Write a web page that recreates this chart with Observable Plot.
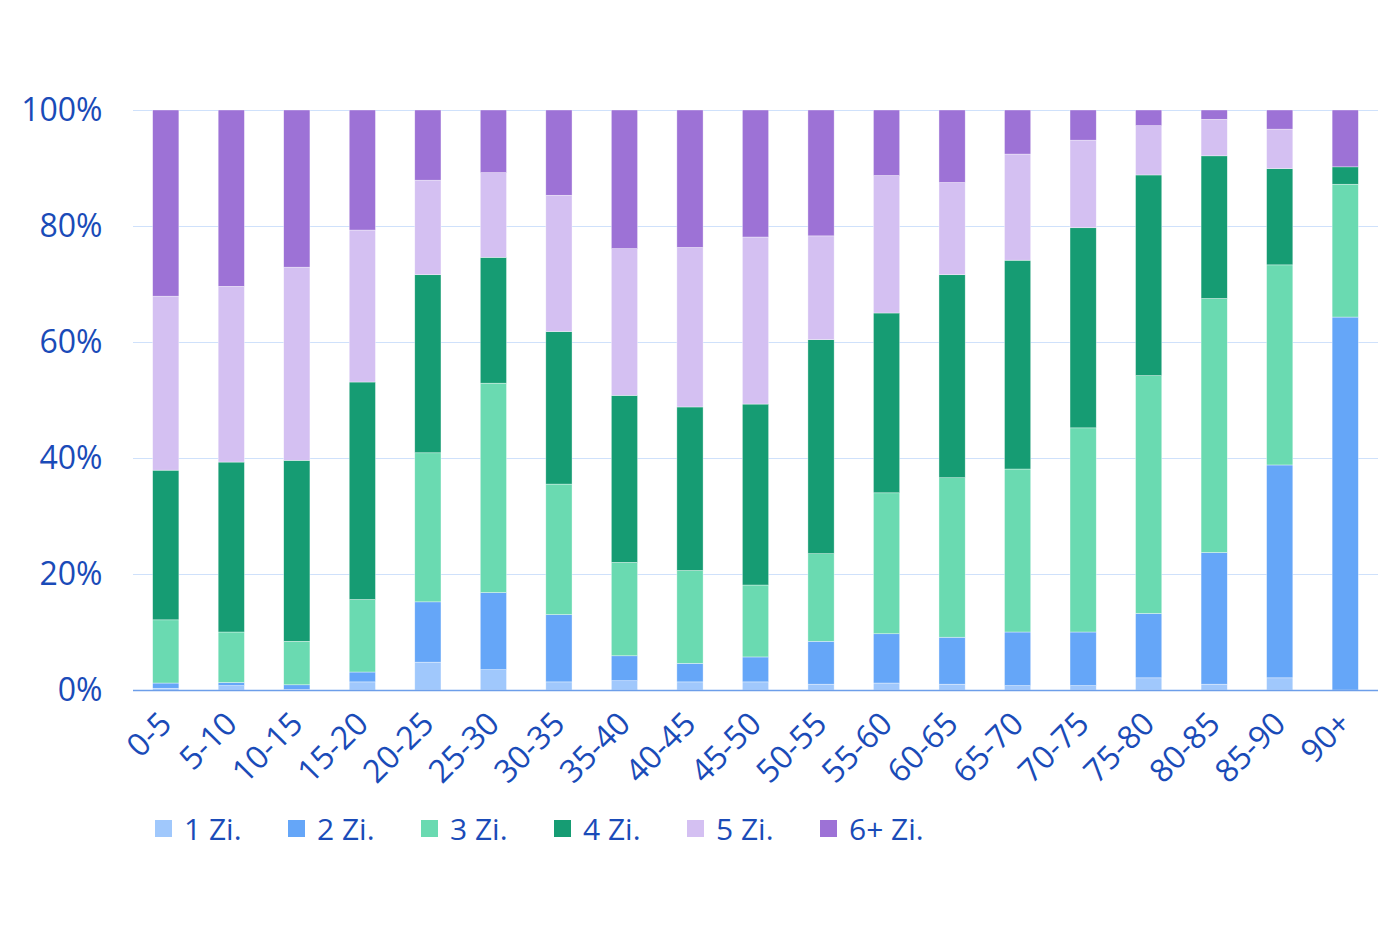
<!DOCTYPE html>
<html>
<head>
<meta charset="utf-8">
<script src="https://cdn.jsdelivr.net/npm/d3@7"></script>
<script src="https://cdn.jsdelivr.net/npm/@observablehq/plot@0.6"></script>
<style>
  html, body { margin: 0; padding: 0; background: #fff; }
  body { width: 1400px; height: 933px; font-family: "Open Sans", sans-serif; }
  #chart svg { display: block; }
  #legend { position: relative; height: 60px; margin-top: -2px; padding-left: 155px; display: flex; align-items: center; }
  .item { display: flex; align-items: center; width: 133px; color: #1a4bb8; font-size: 30px; }
  .sw { width: 17px; height: 17px; margin-right: 12px; }
</style>
</head>
<body>
<div id="chart"></div>
<div id="legend"></div>
<script>
const ages = ["0-5","5-10","10-15","15-20","20-25","25-30","30-35","35-40","40-45","45-50","50-55","55-60","60-65","65-70","70-75","75-80","80-85","85-90","90+"];
const seriesNames = ["1 Zi.","2 Zi.","3 Zi.","4 Zi.","5 Zi.","6+ Zi."];
const seriesColors = ["#a0c8fc","#65a6f8","#6adab1","#169c73","#d4c0f2","#9d72d6"];

const zi1 = [0.3,0.75,0.1,1.4,4.8,3.5,1.4,1.6,1.4,1.4,1.0,1.2,1.0,0.75,0.75,2.1,1.0,2.1,0];
const zi2 = [0.9,0.55,0.8,1.7,10.4,13.3,11.6,4.3,3.2,4.3,7.4,8.5,8.1,9.25,9.25,11.1,22.7,36.7,64.3];
const zi3 = [10.9,8.7,7.5,12.5,25.7,36.1,22.5,16.1,16.0,12.4,15.1,24.3,27.5,28.1,35.2,41.0,43.8,34.5,22.9];
const zi4 = [25.8,29.3,31.2,37.5,30.7,21.7,26.3,28.8,28.2,31.2,36.9,31.0,35.0,36.0,34.5,34.6,24.6,16.6,3.0];
const zi5 = [30.0,30.3,33.3,26.2,16.3,14.6,23.5,25.3,27.5,28.8,17.9,23.7,15.9,18.3,15.1,8.5,6.3,6.8,0];
const zi6 = [32.1,30.4,27.1,20.7,12.1,10.8,14.7,23.9,23.7,21.9,21.7,11.3,12.5,7.6,5.2,2.7,1.6,3.3,9.8];
const yTicks = [0,20,40,60,80,100];

const seriesValues = [zi1, zi2, zi3, zi4, zi5, zi6];
const data = [];
seriesNames.forEach((s, si) => {
  ages.forEach((a, ai) => data.push({age: a, series: s, value: seriesValues[si][ai]}));
});

const textColor = "#1a4bb8";

const chart = Plot.plot({
  width: 1400,
  height: 800,
  marginTop: 110,
  marginBottom: 110,
  marginLeft: 133,
  marginRight: 22,
  style: { fontFamily: "Open Sans, sans-serif", fontSize: "32px", color: textColor, background: "#fff" },
  x: { domain: ages, paddingInner: 0.6, paddingOuter: 0.3, round: false, label: null },
  y: { domain: [0, 100], label: null },
  color: { domain: seriesNames, range: seriesColors },
  marks: [
    Plot.gridY(yTicks, { stroke: "#cfe1fb", strokeOpacity: 1, strokeWidth: 1.2 }),
    Plot.barY(data, { x: "age", y: "value", fill: "series", order: seriesNames, stroke: "#ffffff", strokeWidth: 0.6, strokeOpacity: 0.6 }),
    Plot.ruleY([0], { stroke: "#6d9ee9", strokeWidth: 1.5 }),
    Plot.axisX({ tickRotate: -45, tickSize: 0, tickPadding: 28, fill: textColor, fontSize: 32 }),
    Plot.axisY({ ticks: yTicks, tickFormat: d => d + "%", tickSize: 0, tickPadding: 31, fill: textColor, fontSize: 32 })
  ]
});
document.getElementById("chart").appendChild(chart);

const legend = document.getElementById("legend");
seriesNames.forEach((s, i) => {
  const it = document.createElement("div");
  it.className = "item";
  const sw = document.createElement("div");
  sw.className = "sw";
  sw.style.background = seriesColors[i];
  const t = document.createElement("span");
  t.textContent = s;
  it.appendChild(sw); it.appendChild(t);
  legend.appendChild(it);
});
</script>
</body>
</html>
